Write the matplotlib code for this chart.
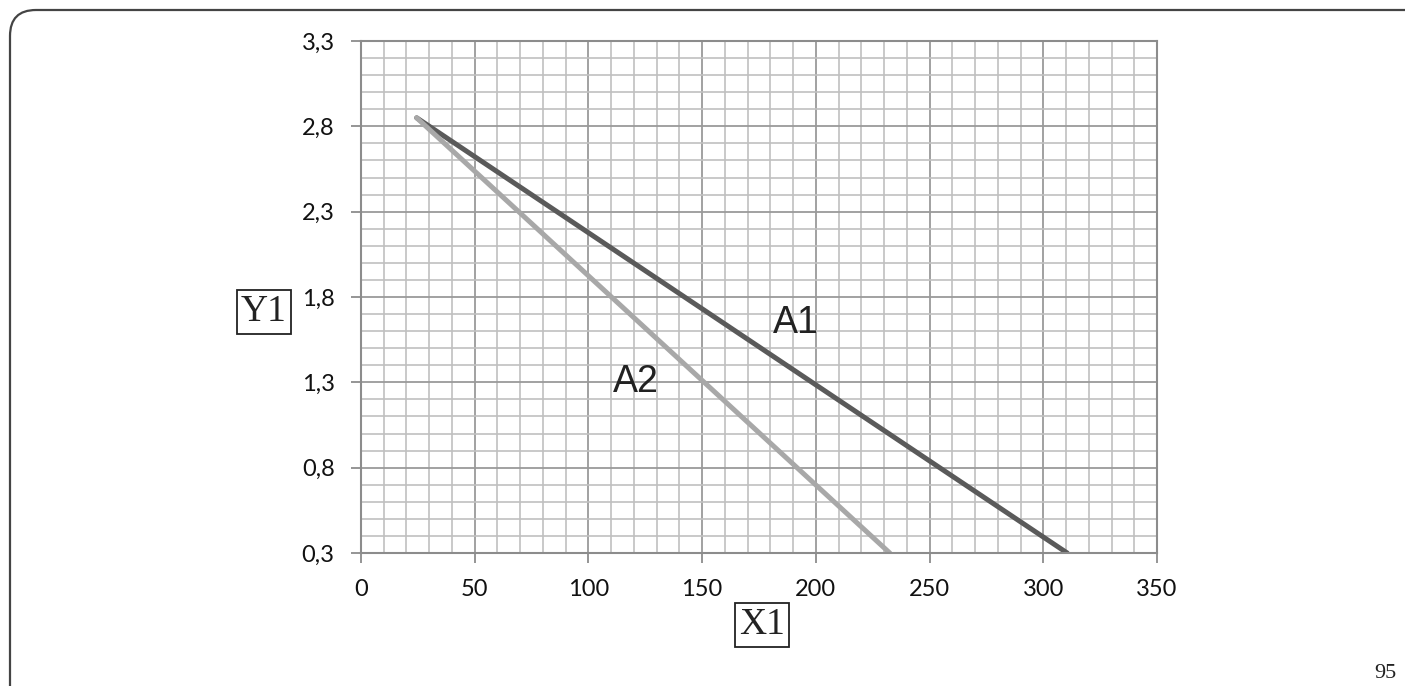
import numpy as np
import matplotlib
matplotlib.use('Agg')
from matplotlib import pyplot as plt
from matplotlib.path import Path
from matplotlib.patches import PathPatch

# data
a1_x = [24.5, 310.5]
a1_y = [2.85, 0.3]
a2_x = [24.5, 232.5]
a2_y = [2.85, 0.3]
x_ticks = [0, 50, 100, 150, 200, 250, 300, 350]
y_ticks = [0.3, 0.8, 1.3, 1.8, 2.3, 2.8, 3.3]
y_labels = ['0,3', '0,8', '1,3', '1,8', '2,3', '2,8', '3,3']

fig = plt.figure(figsize=(14.05, 6.86), dpi=100)
ax = fig.add_axes([0.2569, 0.1939, 0.5666, 0.7463])

ax.set_xlim(0, 350)
ax.set_ylim(0.3, 3.3)
ax.set_xticks(x_ticks)
ax.set_xticks(np.arange(0, 351, 10), minor=True)
ax.set_yticks(y_ticks)
ax.set_yticks(np.arange(0.3, 3.31, 0.1), minor=True)
ax.set_yticklabels(y_labels)

ax.grid(which='minor', color='#c0c0c0', linewidth=1.2)
ax.grid(which='major', color='#9a9a9a', linewidth=1.3)
ax.set_axisbelow(True)
for s in ax.spines.values():
    s.set_color('#8c8c8c')
    s.set_linewidth(1.5)

ax.tick_params(which='major', length=7, width=1.3, color='#8c8c8c', pad=12,
               labelsize=17, labelcolor='#111111')
ax.tick_params(which='minor', length=0)
for lab in ax.get_xticklabels() + ax.get_yticklabels():
    lab.set_family(['Lato', 'DejaVu Sans'])

ax.plot(a1_x, a1_y, color='#5a5a5a', linewidth=3.6, solid_capstyle='round')
ax.plot(a2_x, a2_y, color='#a8a8a8', linewidth=3.6, solid_capstyle='round')

ax.text(191, 1.65, 'A1', fontsize=27, family=['Liberation Sans', 'DejaVu Sans'],
        color='#222222', ha='center', va='center')
ax.text(121, 1.30, 'A2', fontsize=27, family=['Liberation Sans', 'DejaVu Sans'],
        color='#222222', ha='center', va='center')

box = dict(boxstyle='square,pad=0.12', facecolor='white', edgecolor='#222222', linewidth=1.3)
fig.text(264 / 1405, 1 - 312 / 686, 'Y1', fontsize=27, family='Liberation Serif',
         color='#222222', ha='center', va='center', bbox=box)
fig.text(762 / 1405, 1 - 625 / 686, 'X1', fontsize=27, family='Liberation Serif',
         color='#222222', ha='center', va='center', bbox=box)
fig.text(1385 / 1405, 1 - 673 / 686, '95', fontsize=16, family='Liberation Serif',
         color='#222222', ha='center', va='center')

# rounded page frame (top-left corner)
W, H = 1405, 686
r = 26
x0, y0 = 10, 10
verts = [(x0, H), (x0, y0 + r), (x0, y0), (x0 + r, y0), (W, y0)]
verts = [(vx / W, 1 - vy / H) for vx, vy in verts]
codes = [Path.MOVETO, Path.LINETO, Path.CURVE3, Path.CURVE3, Path.LINETO]
fig.patches.append(PathPatch(Path(verts, codes), transform=fig.transFigure,
                             facecolor='none', edgecolor='#444444', linewidth=1.6))

fig.savefig('out.png', dpi=100)
